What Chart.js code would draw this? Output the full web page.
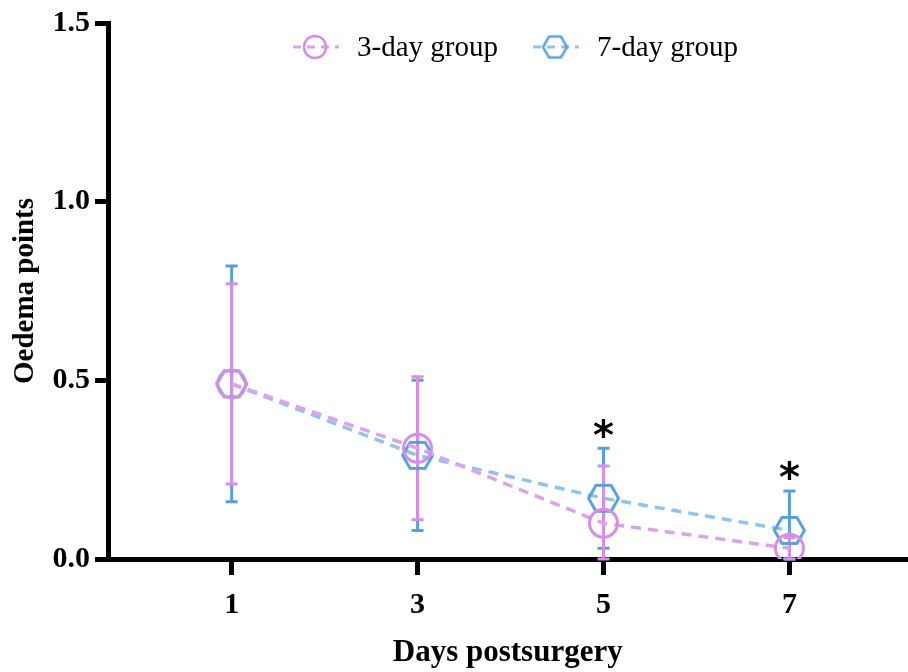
<!DOCTYPE html>
<html>
<head>
<meta charset="utf-8">
<script src="https://cdn.jsdelivr.net/npm/chart.js@4/dist/chart.umd.min.js"></script>
<style>
  html, body { margin: 0; padding: 0; background: #fff; overflow: hidden; }
  #wrap { width: 908px; height: 672px; overflow: hidden; }
</style>
</head>
<body>
<div id="wrap"><canvas id="chart" width="926" height="672"></canvas></div>
<script>
// values
const days = [1, 3, 5, 7];
const group3Mean = [0.49, 0.31, 0.10, 0.03];
const group3Sd = [0.28, 0.20, 0.16, 0.03];
const group7Mean = [0.49, 0.29, 0.17, 0.08];
const group7Sd = [0.33, 0.21, 0.14, 0.11];
const stars = ['', '', '*', '*'];
const yTicks = [0, 0.5, 1.0, 1.5];
const seriesNames = ['3-day group', '7-day group'];

const pink = '#d68fe6';
const pinkLine = '#dba4ea';
const blue = '#5a9fdc';
const blueLine = '#93c2ea';
const serif = '"Liberation Serif", "Times New Roman", serif';

// hexagon marker (flat top)
function hexagon(color, r, lw) {
  const s = Math.ceil(2 * r + lw + 2);
  const c = document.createElement('canvas');
  c.width = s; c.height = s;
  const g = c.getContext('2d');
  g.strokeStyle = color;
  g.lineWidth = lw;
  g.lineJoin = 'round';
  g.beginPath();
  for (let i = 0; i < 6; i++) {
    const a = i * Math.PI / 3;
    const x = s / 2 + r * Math.cos(a), y = s / 2 + r * Math.sin(a);
    if (i === 0) g.moveTo(x, y); else g.lineTo(x, y);
  }
  g.closePath();
  g.stroke();
  return c;
}
const hexBig = hexagon(blue, 15, 3);
const hexSmall = hexagon(blue, 12, 2.5);

const pts = (means) => days.map((d, i) => ({ x: d, y: means[i] }));

// error bars, under the markers
const errorBars = {
  id: 'errorBars',
  beforeDatasetsDraw(chart) {
    const ctx = chart.ctx, xs = chart.scales.x, ys = chart.scales.y;
    const sets = [[group7Mean, group7Sd, blue], [group3Mean, group3Sd, pink]];
    ctx.save();
    sets.forEach(([m, sd, col]) => {
      ctx.strokeStyle = col;
      ctx.lineWidth = 3;
      days.forEach((d, i) => {
        const x = xs.getPixelForValue(d);
        const top = ys.getPixelForValue(m[i] + sd[i]);
        const bot = ys.getPixelForValue(Math.max(0, m[i] - sd[i]));
        ctx.beginPath();
        ctx.moveTo(x, top); ctx.lineTo(x, bot);
        ctx.moveTo(x - 6, top); ctx.lineTo(x + 6, top);
        ctx.moveTo(x - 6, bot); ctx.lineTo(x + 6, bot);
        ctx.stroke();
      });
    });
    ctx.restore();
  },
  afterDraw(chart) {
    const ctx = chart.ctx, xs = chart.scales.x, ys = chart.scales.y;
    ctx.save();
    // significance stars
    ctx.fillStyle = '#000';
    ctx.font = 'bold 40px "DejaVu Sans", sans-serif';
    ctx.textAlign = 'center';
    ctx.textBaseline = 'middle';
    days.forEach((d, i) => {
      if (!stars[i]) return;
      const x = xs.getPixelForValue(d);
      const y = ys.getPixelForValue(group7Mean[i] + group7Sd[i]) - 18;
      ctx.fillText(stars[i], x, y + 8);
    });
    // legend
    const ly = 47;
    const items = [[315, pink, pinkLine], [555, blue, blueLine]];
    items.forEach(([cx, col, lcol], k) => {
      ctx.strokeStyle = lcol;
      ctx.lineWidth = 3;
      ctx.setLineDash([8, 6]);
      ctx.beginPath();
      ctx.moveTo(cx - 22, ly); ctx.lineTo(cx + 24, ly);
      ctx.stroke();
      ctx.setLineDash([]);
      if (k === 0) {
        ctx.strokeStyle = col;
        ctx.lineWidth = 2.5;
        ctx.beginPath();
        ctx.arc(cx, ly, 11, 0, Math.PI * 2);
        ctx.stroke();
      } else {
        ctx.drawImage(hexSmall, cx - hexSmall.width / 2, ly - hexSmall.height / 2);
      }
      ctx.fillStyle = '#000';
      ctx.font = '29px ' + serif;
      ctx.textAlign = 'left';
      ctx.textBaseline = 'middle';
      ctx.fillText(seriesNames[k], cx + 42, ly + 1);
    });
    ctx.restore();
  }
};

new Chart(document.getElementById('chart'), {
  type: 'line',
  data: {
    datasets: [
      {
        label: seriesNames[0],
        data: pts(group3Mean),
        borderColor: pinkLine,
        borderWidth: 3.5,
        borderDash: [10, 7],
        pointStyle: 'circle',
        pointRadius: 14,
        pointBorderWidth: 3,
        pointBorderColor: pink,
        pointBackgroundColor: 'rgba(255,255,255,0)',
        order: 0
      },
      {
        label: seriesNames[1],
        data: pts(group7Mean),
        borderColor: blueLine,
        borderWidth: 3.5,
        borderDash: [10, 7],
        pointStyle: hexBig,
        pointRadius: 15,
        order: 1
      }
    ]
  },
  options: {
    responsive: false,
    animation: false,
    layout: { padding: { left: 8, top: 7, right: 0, bottom: 0 } },
    plugins: { legend: { display: false }, tooltip: { enabled: false } },
    scales: {
      x: {
        type: 'linear',
        min: -0.33,
        max: 8.27,
        afterBuildTicks(scale) { scale.ticks = days.map(v => ({ value: v })); },
        afterFit(scale) { scale.height = 113; scale.paddingRight = 0; },
        grid: { drawOnChartArea: false, color: '#000', tickLength: 16, lineWidth: 5 },
        border: { color: '#000', width: 5 },
        ticks: {
          color: '#000',
          padding: 12,
          font: { family: serif, size: 30, weight: 'bold' },
          callback: v => String(v)
        },
        title: {
          display: true,
          text: 'Days postsurgery',
          color: '#000',
          font: { family: serif, size: 31, weight: 'bold' },
          padding: { top: 12, bottom: 0 }
        }
      },
      y: {
        min: 0,
        max: 1.5,
        afterBuildTicks(scale) { scale.ticks = yTicks.map(v => ({ value: v })); },
        afterFit(scale) { scale.width = 100; },
        grid: { drawOnChartArea: false, color: '#000', tickLength: 13, lineWidth: 5 },
        border: { color: '#000', width: 5 },
        ticks: {
          color: '#000',
          padding: 5,
          font: { family: serif, size: 30, weight: 'bold' },
          callback: v => Number(v).toFixed(1)
        },
        title: {
          display: true,
          text: 'Oedema points',
          color: '#000',
          font: { family: serif, size: 29, weight: 'bold' },
          padding: { top: 0, bottom: 4 }
        }
      }
    }
  },
  plugins: [errorBars]
});
</script>
</body>
</html>
